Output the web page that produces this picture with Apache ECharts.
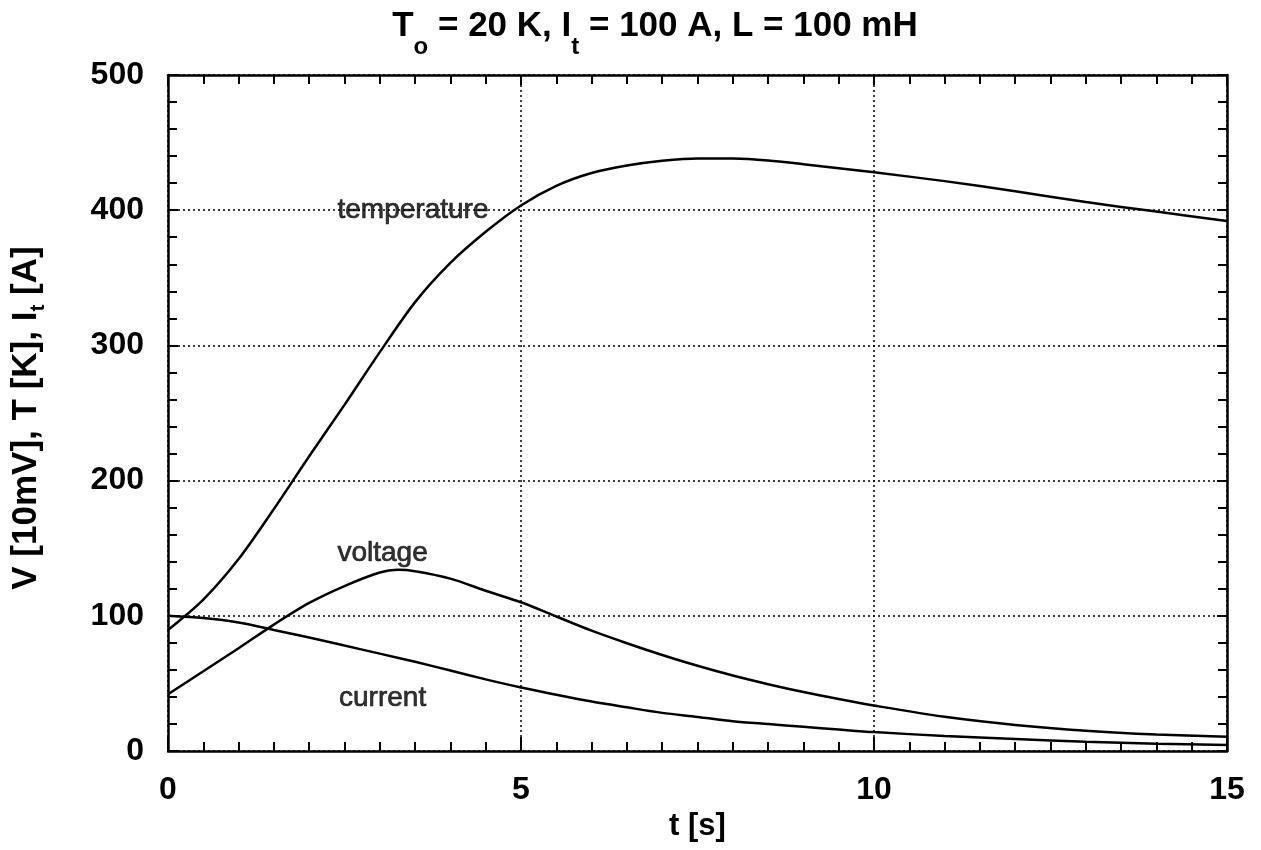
<!DOCTYPE html>
<html><head><meta charset="utf-8">
<script src="https://cdn.jsdelivr.net/npm/echarts@6/dist/echarts.min.js"></script>
<style>html,body{margin:0;padding:0;background:#fff}#c{width:1261px;height:850px}</style>
</head><body><div id="c"></div>
<script>
// readings: [t (s), value]
const temperature = [[0,89.5],[0.5,112],[1.0,142],[1.5,179],[2.0,218],[2.5,256],[3.0,295],[3.5,332],[4.0,361],[4.5,384],[5.0,403.5],[5.5,418],[6.0,427.5],[6.5,433],[7.0,436.5],[7.5,438.3],[8.0,438.2],[8.5,436.8],[9.0,434],[10,428],[11,421.5],[12,414],[13,406],[14,399],[15,392]];
const voltage = [[0,42],[0.5,59],[1.0,76],[1.5,93.5],[2.0,109.5],[2.5,122],[3.0,132],[3.25,134],[3.5,133],[4.0,127.5],[4.5,118.5],[5.0,110],[5.5,99.5],[6.0,89],[6.5,79.7],[7.0,71],[7.5,63],[8.0,55.8],[8.5,49.4],[9.0,43.6],[9.5,38.4],[10,33.6],[11,25.3],[12,19.3],[13,15],[14,12.2],[15,10.5]];
const current = [[0,100],[0.5,98.3],[1.0,95],[1.5,89.5],[2.0,84],[2.5,78],[3.0,72],[3.5,66],[4.0,59.5],[4.5,53],[5.0,47],[5.5,41.6],[6.0,36.6],[6.5,32.3],[7.0,28.2],[7.5,25.2],[8.0,22],[8.5,19.9],[9.0,17.9],[9.5,15.9],[10,14],[11,11.1],[12,8.8],[13,6.8],[14,5.4],[15,4.4]];
const curveLabels = [[3.47,400,'temperature'],[3.04,146,'voltage'],[3.04,39,'current']];
const xTicks = [0,5,10,15];
const yTicks = [0,100,200,300,400,500];
const titleParts = [['T',0],['o',1],[' = 20 K, I',0],['t',1],[' = 100 A, L = 100 mH',0]];
const yNameParts = [['V [10mV], T [K], I',0],['t',1],[' [A]',0]];
const xName = 't [s]';

const FONT = '"Liberation Sans", Arial, Helvetica, sans-serif';
const chart = echarts.init(document.getElementById('c'), null, {renderer:'canvas'});
const lineBlack = {color:'#000', width:2.5};
const dotted = {color:'#000', width:1.5, type:[2,3]};
const measureCtx = document.createElement('canvas').getContext('2d');
function textWidth(t, font){ measureCtx.font = font; return measureCtx.measureText(t).width; }

// builds a run of text with subscripts, centred at local x=0
function subText(parts, mainSize, subSize, subDy){
  const mainFont = 'bold ' + mainSize + 'px ' + FONT;
  const subFont = 'bold ' + subSize + 'px ' + FONT;
  let total = 0;
  const widths = parts.map(p => { const w = textWidth(p[0], p[1] ? subFont : mainFont); total += w; return w; });
  let x = -total/2;
  return parts.map((p, i) => {
    const el = {type:'text', x:x, y:p[1]?subDy:0, style:{text:p[0], font:p[1]?subFont:mainFont, fill:'#000', align:'left', verticalAlign:'top'}};
    x += widths[i];
    return el;
  });
}

function xAx(pos, main){
  return {type:'value', position:pos, min:xTicks[0], max:xTicks[xTicks.length-1], interval:5,
    axisLine:{show:true, onZero:false, lineStyle:lineBlack},
    axisTick:{show:true, inside:true, length: main?14:10, lineStyle:{color:'#000', width:2}},
    minorTick:{show:true, splitNumber:10, length:9, lineStyle:{color:'#000', width:2}},
    axisLabel:{show:main, color:'#000', fontFamily:FONT, fontWeight:'bold', fontSize:32, margin:23},
    splitLine:{show:main, lineStyle:dotted}, minorSplitLine:{show:false},
    name: main?xName:'', nameLocation:'middle', nameGap:53,
    nameTextStyle:{color:'#000', fontFamily:FONT, fontWeight:'bold', fontSize:31}};
}
function yAx(pos, main){
  return {type:'value', position:pos, min:yTicks[0], max:yTicks[yTicks.length-1], interval:100,
    axisLine:{show:true, onZero:false, lineStyle:lineBlack},
    axisTick:{show:true, inside:true, length:10, lineStyle:{color:'#000', width:2}},
    minorTick:{show:true, splitNumber:5, length:9, lineStyle:{color:'#000', width:2}},
    axisLabel:{show:main, color:'#000', fontFamily:FONT, fontWeight:'bold', fontSize:32, margin:24},
    splitLine:{show:main, lineStyle:dotted}, minorSplitLine:{show:false}};
}
function curve(name, data){
  return {name, type:'line', data, smooth:0.3, symbol:'none', xAxisIndex:0, yAxisIndex:0,
    lineStyle:{color:'#000', width:2.5}, z:3, animation:false};
}
chart.setOption({
  backgroundColor:'#fff',
  animation:false,
  grid:{left:168, right:34, top:75, bottom:99},
  xAxis:[xAx('bottom', true), xAx('top', false)],
  yAxis:[yAx('left', true), yAx('right', false)],
  series:[
    curve('temperature', temperature),
    curve('voltage', voltage),
    curve('current', current),
    {type:'scatter', data:curveLabels, symbolSize:0, z:5, silent:true,
      label:{show:true, position:'inside', formatter:p=>p.data[2], color:'#000',
        fontFamily:FONT, fontSize:28, fontWeight:'normal', textBorderColor:'#000', textBorderWidth:0.7}}
  ],
  graphic:[
    {type:'group', x:655, y:9, z:10, children: subText(titleParts, 35, 24, 26)},
    {type:'group', x:9, y:418, rotation:Math.PI/2, z:10, children: subText(yNameParts, 35, 21, 19)}
  ]
});
</script>
</body></html>
